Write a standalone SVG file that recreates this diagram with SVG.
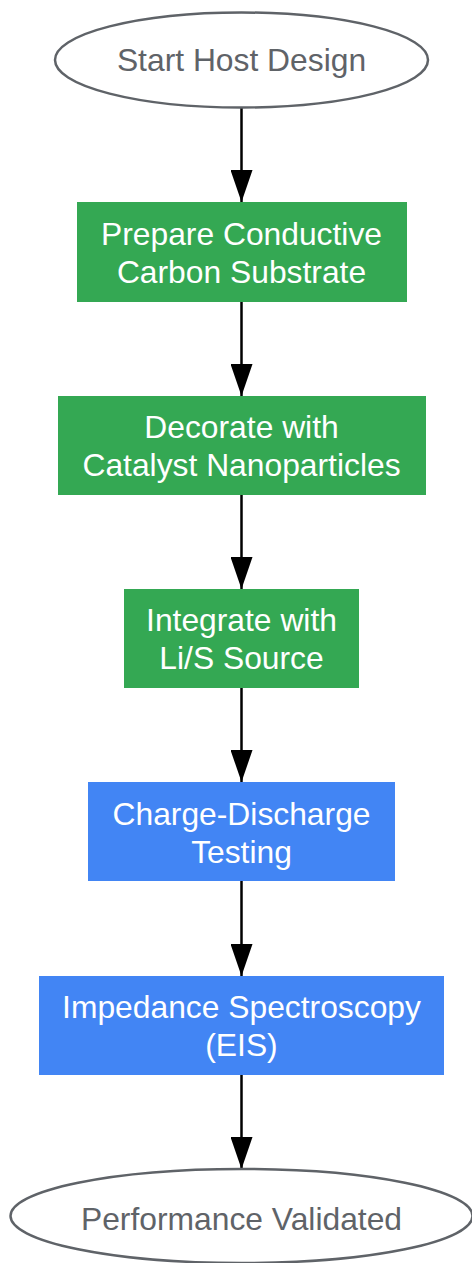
<svg xmlns="http://www.w3.org/2000/svg" width="472" height="1263" viewBox="0 0 472 1263">
<style>
.t{font-family:"Liberation Sans",Arial,sans-serif;font-size:31.8px;text-anchor:middle}
.w{fill:#ffffff}
.g{fill:#5f6368}
.term{fill:#ffffff;stroke:#5f6368;stroke-width:2.5}
.green{fill:#34a853}
.blue{fill:#4285f4}
.edge{stroke:#000000;stroke-width:2.5;fill:none;marker-end:url(#ah)}
</style>
<defs>
<marker id="ah" markerWidth="32" markerHeight="22" refX="32" refY="11" orient="auto" markerUnits="userSpaceOnUse" viewBox="0 0 32 22">
<path d="M0,0 L32,11 L0,22 Z" fill="#000000"/>
</marker>
</defs>
<g id="edges">
<path class="edge" d="M241.5,108 L241.5,202"/>
<path class="edge" d="M241.5,302 L241.5,396"/>
<path class="edge" d="M241.5,495 L241.5,589"/>
<path class="edge" d="M241.5,688 L241.5,782"/>
<path class="edge" d="M241.5,881 L241.5,976"/>
<path class="edge" d="M241.5,1075 L241.5,1169"/>
</g>
<g id="start">
<ellipse class="term" cx="241.5" cy="60" rx="186.5" ry="47.5"/>
<text class="t g" x="241.5" y="71">Start Host Design</text>
</g>
<g id="prepare">
<rect class="green" x="77" y="202" width="330" height="100"/>
<text class="t w" x="241.5" y="245">Prepare Conductive</text>
<text class="t w" x="241.5" y="283">Carbon Substrate</text>
</g>
<g id="decorate">
<rect class="green" x="58" y="396" width="368" height="99"/>
<text class="t w" x="241.5" y="438">Decorate with</text>
<text class="t w" x="241.5" y="476">Catalyst Nanoparticles</text>
</g>
<g id="integrate">
<rect class="green" x="124" y="589" width="235" height="99"/>
<text class="t w" x="241.5" y="631">Integrate with</text>
<text class="t w" x="241.5" y="669">Li/S Source</text>
</g>
<g id="charge">
<rect class="blue" x="88" y="782" width="307" height="99"/>
<text class="t w" x="241.5" y="825">Charge-Discharge</text>
<text class="t w" x="241.5" y="863">Testing</text>
</g>
<g id="eis">
<rect class="blue" x="39" y="976" width="405" height="99"/>
<text class="t w" x="241.5" y="1018">Impedance Spectroscopy</text>
<text class="t w" x="241.5" y="1056">(EIS)</text>
</g>
<g id="end">
<ellipse class="term" cx="241.5" cy="1216" rx="231" ry="47"/>
<text class="t g" x="241.5" y="1230">Performance Validated</text>
</g>
</svg>
